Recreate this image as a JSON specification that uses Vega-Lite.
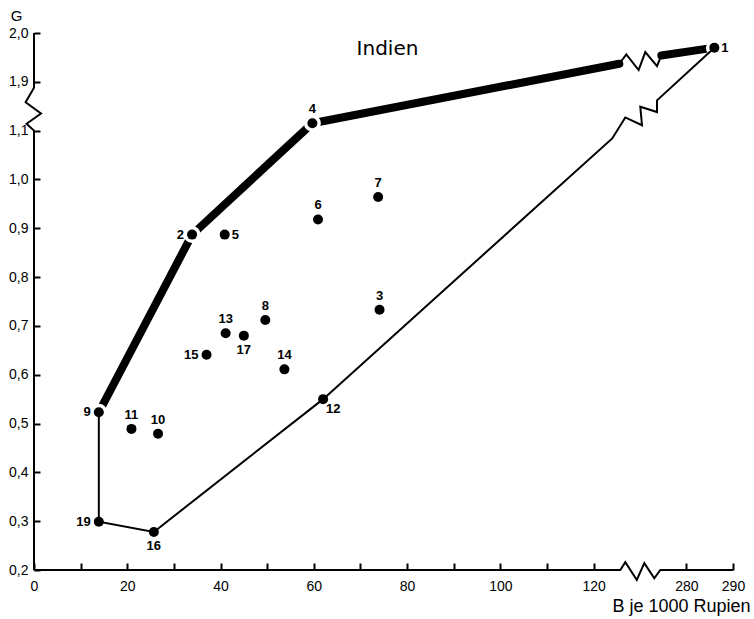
{
  "$schema": "https://vega.github.io/schema/vega-lite/v6.json",
  "autosize": {"type": "none"},
  "width": 699,
  "height": 537,
  "padding": {"left": 34, "top": 33, "right": 21, "bottom": 49},
  "background": "white",
  "config": {"view": {"stroke": null}, "font": "Liberation Sans"},
  "title": {"text": "Indien", "font": "DejaVu Sans", "fontSize": 20, "fontWeight": "normal", "color": "black", "anchor": "middle", "frame": "group", "orient": "top", "offset": -47, "baseline": "alphabetic", "dy": 20, "dx": 4},
  "datasets": {
    "points": [
      {"id": "1", "B": 286, "G": 1.97, "pos": "right", "frontier": true},
      {"id": "2", "B": 33.9, "G": 0.887, "pos": "left", "frontier": true},
      {"id": "3", "B": 74.1, "G": 0.733, "pos": "above", "frontier": false},
      {"id": "4", "B": 59.7, "G": 1.115, "pos": "above", "frontier": true},
      {"id": "5", "B": 40.9, "G": 0.887, "pos": "right", "frontier": false},
      {"id": "6", "B": 60.9, "G": 0.918, "pos": "above", "frontier": false},
      {"id": "7", "B": 73.8, "G": 0.964, "pos": "above", "frontier": false},
      {"id": "8", "B": 49.6, "G": 0.712, "pos": "above", "frontier": false},
      {"id": "9", "B": 13.9, "G": 0.523, "pos": "left", "frontier": true},
      {"id": "10", "B": 26.6, "G": 0.479, "pos": "above", "frontier": false},
      {"id": "11", "B": 20.9, "G": 0.489, "pos": "above", "frontier": false},
      {"id": "12", "B": 62.0, "G": 0.55, "pos": "belowright", "frontier": false},
      {"id": "13", "B": 41.1, "G": 0.685, "pos": "above", "frontier": false},
      {"id": "14", "B": 53.7, "G": 0.611, "pos": "above", "frontier": false},
      {"id": "15", "B": 37.0, "G": 0.641, "pos": "left", "frontier": false},
      {"id": "16", "B": 25.7, "G": 0.278, "pos": "below", "frontier": false},
      {"id": "17", "B": 45.0, "G": 0.68, "pos": "below", "frontier": false},
      {"id": "19", "B": 13.9, "G": 0.299, "pos": "left", "frontier": false}
    ],
    "thick": [
      {"seg": "A", "i": 0, "B": 13.9, "G": 0.523},
      {"seg": "A", "i": 1, "B": 33.9, "G": 0.887},
      {"seg": "A", "i": 2, "B": 59.7, "G": 1.115},
      {"seg": "A", "i": 3, "B": 132.8, "G": 1.937},
      {"seg": "B", "i": 0, "B": 269.2, "G": 1.954},
      {"seg": "B", "i": 1, "B": 286, "G": 1.97}
    ],
    "thin": [
      {"path": "hull", "i": 0, "B": 13.9, "G": 0.523},
      {"path": "hull", "i": 1, "B": 13.9, "G": 0.299},
      {"path": "hull", "i": 2, "B": 25.7, "G": 0.278},
      {"path": "hull", "i": 3, "B": 62.0, "G": 0.55},
      {"path": "hull", "i": 4, "B": 124.0, "G": 1.084},
      {"path": "hull", "i": 5, "B": 152.3, "G": 1.127},
      {"path": "hull", "i": 6, "B": 206.5, "G": 1.111},
      {"path": "hull", "i": 7, "B": 200.9, "G": 1.149},
      {"path": "hull", "i": 8, "B": 255.2, "G": 1.138},
      {"path": "hull", "i": 9, "B": 255.2, "G": 1.862},
      {"path": "hull", "i": 10, "B": 286, "G": 1.97},
      {"path": "zig", "i": 0, "B": 132.8, "G": 1.937},
      {"path": "zig", "i": 1, "B": 155.5, "G": 1.956},
      {"path": "zig", "i": 2, "B": 195.5, "G": 1.924},
      {"path": "zig", "i": 3, "B": 217.2, "G": 1.961},
      {"path": "zig", "i": 4, "B": 255.2, "G": 1.932},
      {"path": "zig", "i": 5, "B": 269.2, "G": 1.954},
      {"path": "yaxis", "i": 0, "B": 0, "G": 2.0},
      {"path": "yaxis", "i": 1, "B": 0, "G": 1.888},
      {"path": "yaxis", "i": 2, "B": -1.8, "G": 1.858},
      {"path": "yaxis", "i": 3, "B": 1.5, "G": 1.135},
      {"path": "yaxis", "i": 4, "B": -1.6, "G": 1.114},
      {"path": "yaxis", "i": 5, "B": 0, "G": 1.1},
      {"path": "yaxis", "i": 6, "B": 0, "G": 0.2},
      {"path": "xaxis", "i": 0, "B": 0, "G": 0.2},
      {"path": "xaxis", "i": 1, "B": 136, "G": 0.2},
      {"path": "xaxis", "i": 2, "B": 152.3, "G": 0.216},
      {"path": "xaxis", "i": 3, "B": 189.6, "G": 0.1795},
      {"path": "xaxis", "i": 4, "B": 214, "G": 0.214},
      {"path": "xaxis", "i": 5, "B": 246.4, "G": 0.183},
      {"path": "xaxis", "i": 6, "B": 265.9, "G": 0.2},
      {"path": "xaxis", "i": 7, "B": 290, "G": 0.2}
    ]
  },
  "encoding": {
    "x": {
      "field": "B", "type": "quantitative",
      "scale": {"domain": [0, 125, 275, 290], "range": [0, 582.9, 629.1, 699], "nice": false, "zero": false},
      "axis": {
        "domain": false, "grid": false,
        "values": [0, 10, 20, 30, 40, 50, 60, 70, 80, 90, 100, 110, 120, 280, 290],
        "labelExpr": "datum.value % 20 == 0 || datum.value > 200 ? datum.label : ''",
        "labelFlush": false, "labelOverlap": false,
        "labelFontSize": 14, "labelColor": "black", "labelPadding": 16,
        "tickSize": -7, "tickColor": "black", "tickWidth": 2,
        "title": "B je 1000 Rupien", "titleFontSize": 18, "titleFontWeight": "normal", "titleColor": "black",
        "titleX": 716, "titleY": 41, "titleAlign": "right", "titleBaseline": "alphabetic", "titleAnchor": null
      }
    },
    "y": {
      "field": "G", "type": "quantitative",
      "scale": {"domain": [0.2, 1.15, 1.85, 2.0], "range": [537, 73.2, 73.2, 0], "nice": false, "zero": false},
      "axis": {
        "domain": false, "grid": false,
        "values": [0.2, 0.3, 0.4, 0.5, 0.6, 0.7, 0.8, 0.9, 1.0, 1.1, 1.9, 2.0],
        "labelExpr": "replace(format(datum.value, '.1f'), '.', ',')",
        "labelFlush": false, "labelOverlap": false,
        "labelFontSize": 14, "labelColor": "black", "labelPadding": 12,
        "tickSize": -6, "tickColor": "black", "tickWidth": 2,
        "title": "G", "titleFontSize": 15, "titleFontWeight": "normal", "titleColor": "black",
        "titleAngle": 0, "titleX": -18, "titleY": -13, "titleAlign": "center", "titleBaseline": "alphabetic"
      }
    }
  },
  "layer": [
    {
      "data": {"name": "thick"},
      "mark": {"type": "line", "strokeWidth": 8, "strokeCap": "round", "strokeJoin": "round", "color": "black"},
      "encoding": {"detail": {"field": "seg"}, "order": {"field": "i"}}
    },
    {
      "data": {"name": "points"},
      "transform": [{"filter": "datum.frontier"}],
      "mark": {"type": "circle", "size": 100, "fill": "black", "stroke": "white", "strokeWidth": 7, "opacity": 1}
    },
    {
      "data": {"name": "thin"},
      "mark": {"type": "line", "strokeWidth": 2, "strokeJoin": "miter", "color": "black"},
      "encoding": {"detail": {"field": "path"}, "order": {"field": "i"}}
    },
    {
      "data": {"name": "points"},
      "mark": {"type": "circle", "size": 100, "fill": "black", "opacity": 1}
    },
    {
      "data": {"name": "points"},
      "transform": [{"filter": "datum.pos == 'above'"}],
      "mark": {"type": "text", "font": "Liberation Sans", "fontSize": 13, "fontWeight": "bold", "align": "center", "baseline": "bottom", "dy": -7, "color": "black"},
      "encoding": {"text": {"field": "id"}}
    },
    {
      "data": {"name": "points"},
      "transform": [{"filter": "datum.pos == 'left'"}],
      "mark": {"type": "text", "font": "Liberation Sans", "fontSize": 13, "fontWeight": "bold", "align": "right", "baseline": "middle", "dx": -8, "color": "black"},
      "encoding": {"text": {"field": "id"}}
    },
    {
      "data": {"name": "points"},
      "transform": [{"filter": "datum.pos == 'right'"}],
      "mark": {"type": "text", "font": "Liberation Sans", "fontSize": 13, "fontWeight": "bold", "align": "left", "baseline": "middle", "dx": 7, "color": "black"},
      "encoding": {"text": {"field": "id"}}
    },
    {
      "data": {"name": "points"},
      "transform": [{"filter": "datum.pos == 'below'"}],
      "mark": {"type": "text", "font": "Liberation Sans", "fontSize": 13, "fontWeight": "bold", "align": "center", "baseline": "top", "dy": 8, "color": "black"},
      "encoding": {"text": {"field": "id"}}
    },
    {
      "data": {"name": "points"},
      "transform": [{"filter": "datum.pos == 'belowright'"}],
      "mark": {"type": "text", "font": "Liberation Sans", "fontSize": 13, "fontWeight": "bold", "align": "left", "baseline": "top", "dx": 3, "dy": 4, "color": "black"},
      "encoding": {"text": {"field": "id"}}
    }
  ]
}
